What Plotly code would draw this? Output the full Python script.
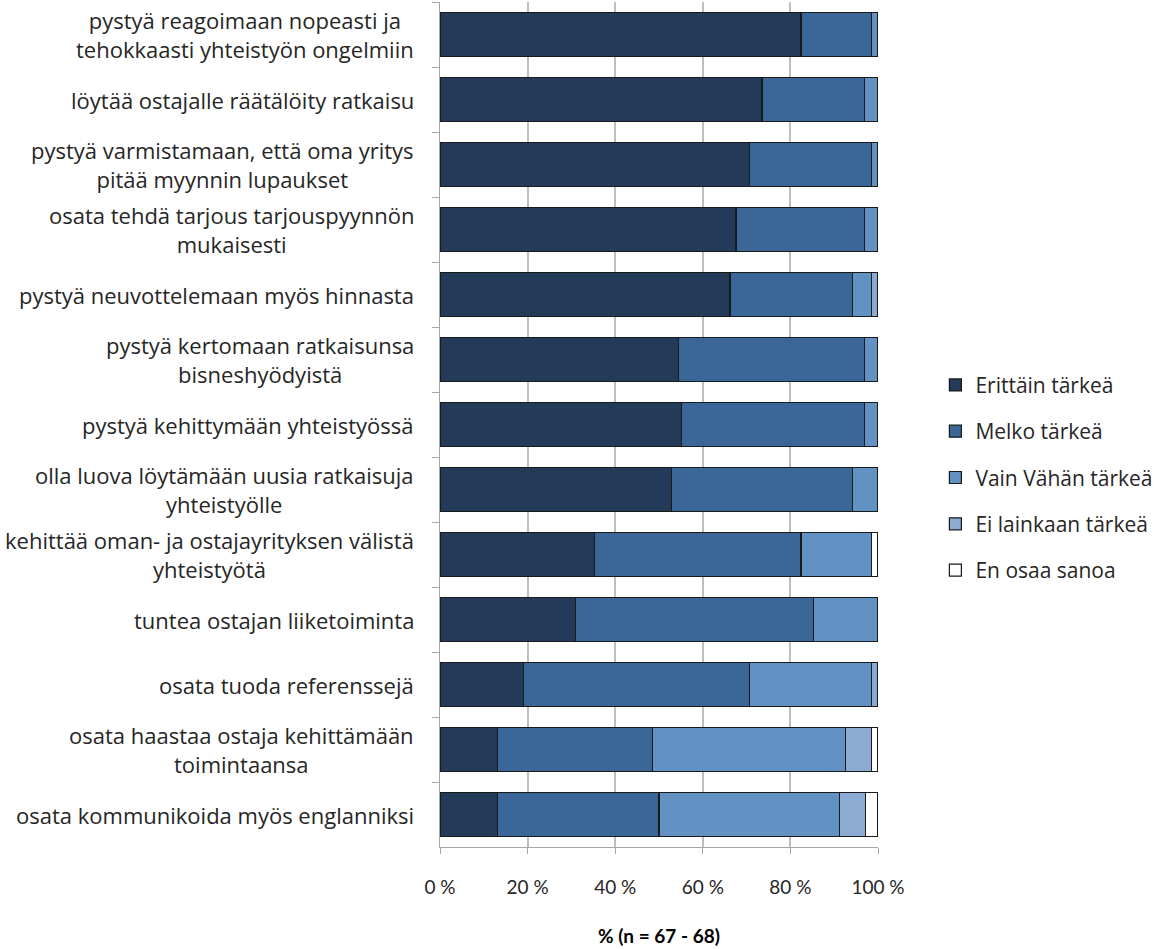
import plotly.graph_objects as go

# Survey statements (top to bottom)
categories = [
    "pystyä reagoimaan nopeasti ja<br>tehokkaasti yhteistyön ongelmiin",
    "löytää ostajalle räätälöity ratkaisu",
    "pystyä varmistamaan, että oma yritys<br>pitää myynnin lupaukset",
    "osata tehdä tarjous tarjouspyynnön<br>mukaisesti",
    "pystyä neuvottelemaan myös hinnasta",
    "pystyä kertomaan ratkaisunsa<br>bisneshyödyistä",
    "pystyä kehittymään yhteistyössä",
    "olla luova löytämään uusia ratkaisuja<br>yhteistyölle",
    "kehittää oman- ja ostajayrityksen välistä<br>yhteistyötä",
    "tuntea ostajan liiketoiminta",
    "osata tuoda referenssejä",
    "osata haastaa ostaja kehittämään<br>toimintaansa",
    "osata kommunikoida myös englanniksi",
]

# Response shares, %
erittain_tarkea = [82.4, 73.5, 70.6, 67.6, 66.2, 54.4, 55.2, 52.9, 35.3, 30.9, 19.1, 13.2, 13.2]
melko_tarkea = [16.2, 23.5, 27.9, 29.4, 27.9, 42.6, 41.8, 41.2, 47.1, 54.4, 51.5, 35.3, 36.8]
vain_vahan_tarkea = [1.4, 3.0, 1.5, 3.0, 4.4, 3.0, 3.0, 5.9, 16.2, 14.7, 27.9, 44.1, 41.2]
ei_lainkaan_tarkea = [0.0, 0.0, 0.0, 0.0, 1.5, 0.0, 0.0, 0.0, 0.0, 0.0, 1.5, 5.9, 5.9]
en_osaa_sanoa = [0.0, 0.0, 0.0, 0.0, 0.0, 0.0, 0.0, 0.0, 1.4, 0.0, 0.0, 1.5, 2.9]

series = [
    ("Erittäin tärkeä", erittain_tarkea, "#233B59"),
    ("Melko tärkeä", melko_tarkea, "#3A6797"),
    ("Vain Vähän tärkeä", vain_vahan_tarkea, "#6292C4"),
    ("Ei lainkaan tärkeä", ei_lainkaan_tarkea, "#8BABD3"),
    ("En osaa sanoa", en_osaa_sanoa, "#FFFFFF"),
]

x_ticks = [0, 20, 40, 60, 80, 100]
x_tick_text = ["0 %", "20 %", "40 %", "60 %", "80 %", "100 %"]

LABEL_FONT = "'Open Sans', Lato, sans-serif"
TICK_FONT = "Lato, 'Open Sans', sans-serif"
TEXT_COLOR = "#262626"

fig = go.Figure()
for i, (name, vals, color) in enumerate(series):
    fig.add_trace(go.Bar(
        y=categories,
        x=vals,
        name=name,
        orientation="h",
        legendgroup=f"g{i}",
        marker=dict(color=color, line=dict(color="#1A1A1A", width=1.2)),
    ))

# Category labels: block right-aligned, lines centred within the block
for cat in categories:
    fig.add_annotation(
        x=0, xref="paper", y=cat, yref="y",
        xanchor="right", yanchor="middle", xshift=-24,
        text=cat, showarrow=False, align="center",
        font=dict(family=LABEL_FONT, size=22, color=TEXT_COLOR),
    )

fig.update_layout(
    width=1167, height=949,
    barmode="stack",
    bargap=0.32,
    plot_bgcolor="white",
    paper_bgcolor="white",
    margin=dict(l=440, r=289, t=2, b=102),
    font=dict(family=TICK_FONT, size=19, color=TEXT_COLOR),
    legend=dict(
        x=1.131, xanchor="left", y=0.437, yanchor="middle",
        traceorder="grouped", tracegroupgap=16,
        font=dict(family=LABEL_FONT, size=21, color=TEXT_COLOR),
        itemwidth=30,
    ),
    showlegend=True,
)

fig.update_xaxes(
    range=[0, 100],
    tickvals=x_ticks, ticktext=x_tick_text,
    showgrid=True, gridcolor="#BFBFBF", gridwidth=1.5,
    zeroline=False,
    showline=True, linecolor="#A6A6A6", linewidth=1,
    ticks="outside", ticklen=6, tickcolor="#A6A6A6",
    ticklabelstandoff=17,
    tickfont=dict(family=TICK_FONT, size=19, color=TEXT_COLOR),
    title=dict(text="<b>% (n = 67 - 68)</b>", standoff=32,
               font=dict(family=TICK_FONT, size=19, color="#000000")),
)

fig.update_yaxes(
    categoryorder="array", categoryarray=categories,
    autorange="reversed",
    showticklabels=False,
    showline=True, linecolor="#A6A6A6", linewidth=1,
    ticks="outside", ticklen=7, tickcolor="#A6A6A6",
    tickson="boundaries",
    showgrid=False,
)

fig.write_html("out.html")
